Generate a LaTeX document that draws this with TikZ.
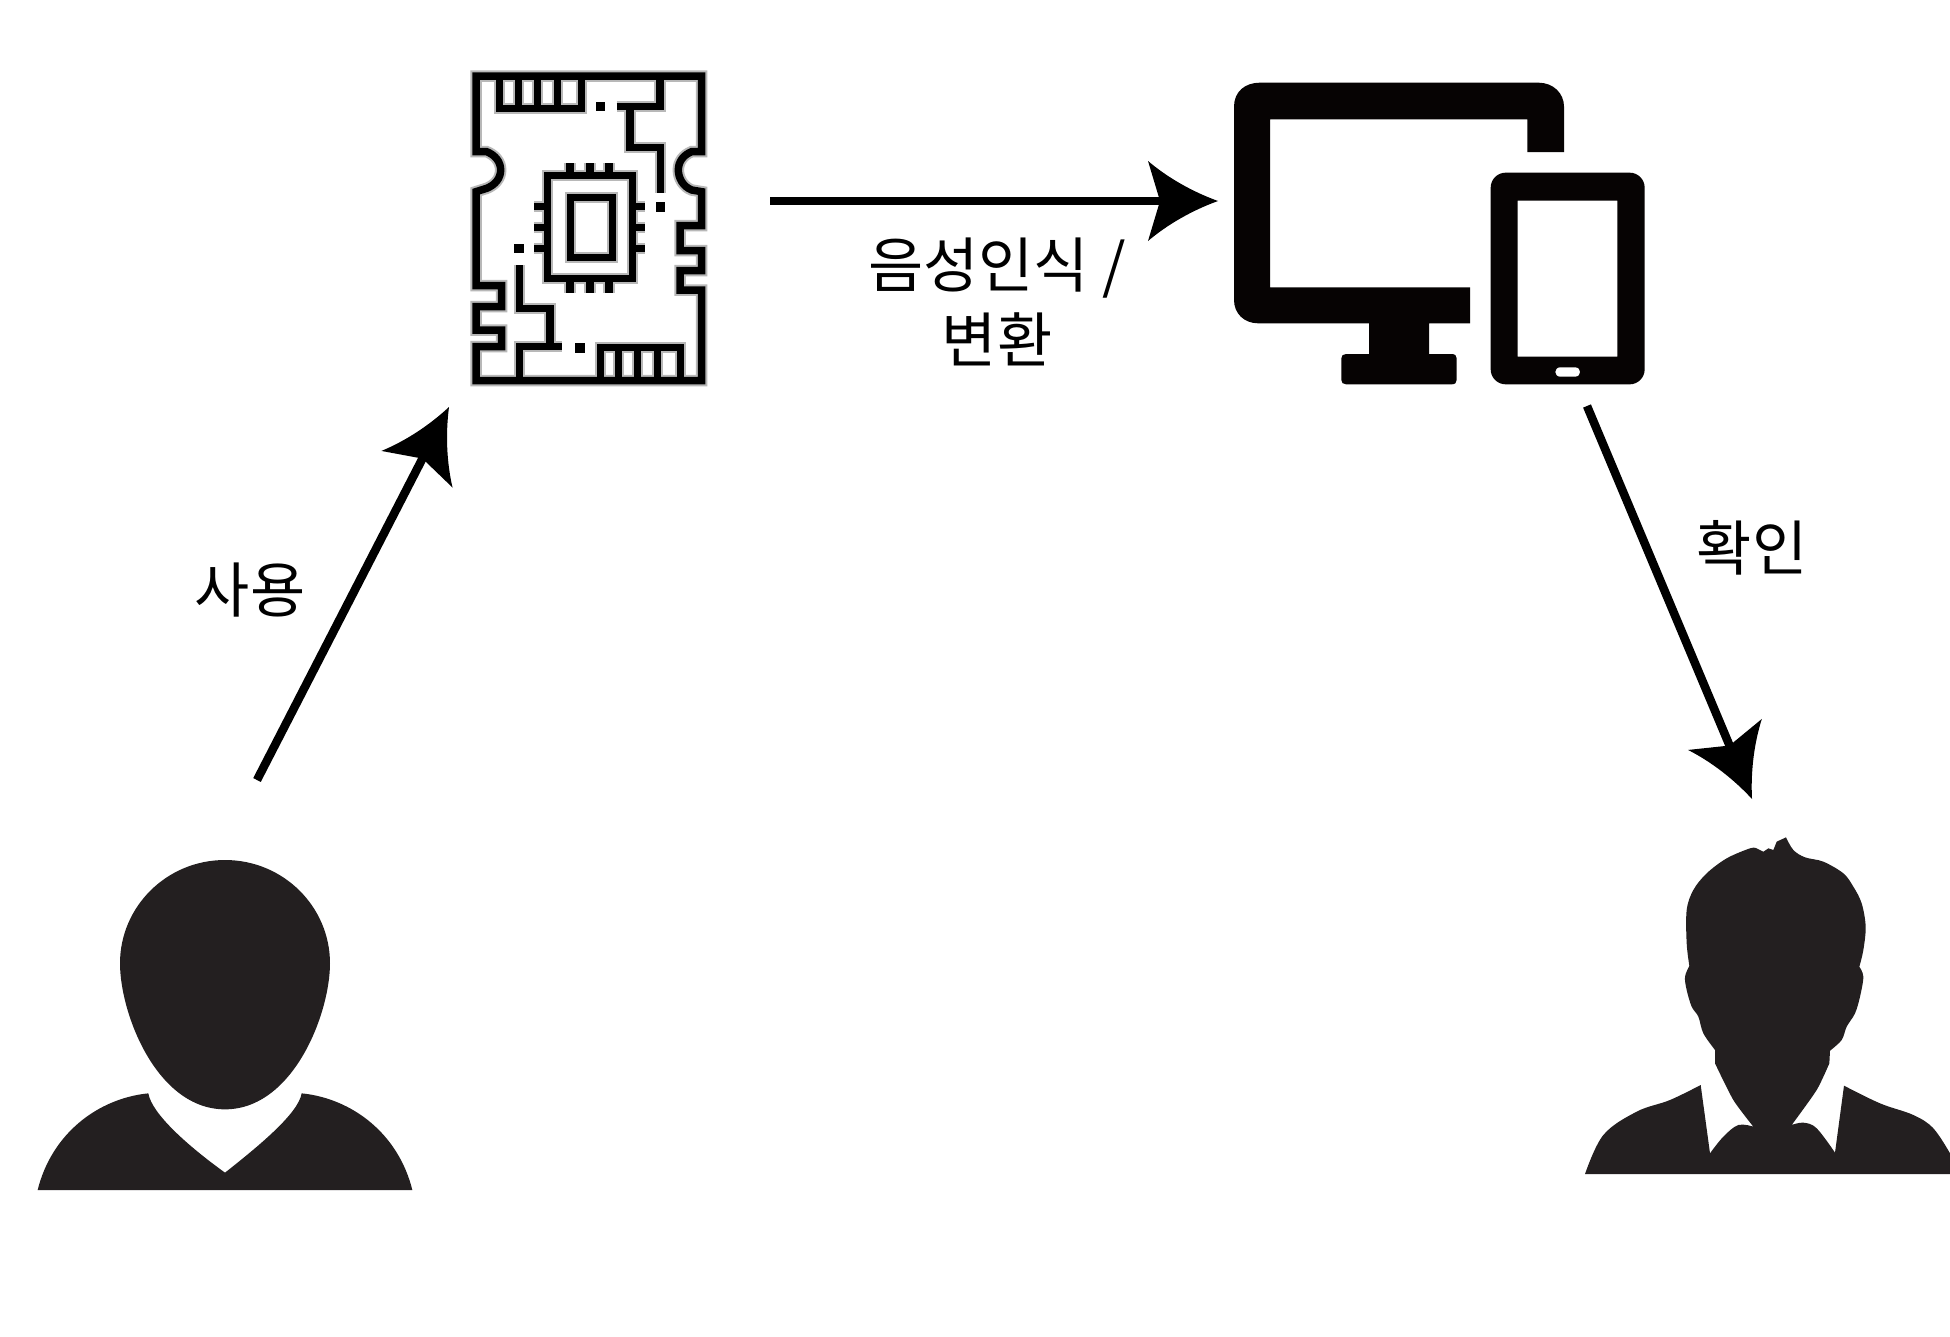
\documentclass[tikz,border=0pt]{standalone}
\usepackage{fontspec}
\newfontfamily\krfont{Noto Sans CJK KR}
\usetikzlibrary{arrows.meta}
\pgfdeclarearrow{
  name=Barbed,
  setup code={
    \pgfarrowssettipend{0pt}
    \pgfarrowssetlineend{-52pt}
    \pgfarrowssetbackend{-70pt}
    \pgfarrowssetvisualbackend{-58pt}
  },
  drawing code={
    \pgfpathmoveto{\pgfpoint{0pt}{0pt}}
    \pgfpathcurveto{\pgfpoint{-25pt}{9pt}}{\pgfpoint{-50pt}{23pt}}{\pgfpoint{-70pt}{40pt}}
    \pgfpathlineto{\pgfpoint{-58pt}{0pt}}
    \pgfpathlineto{\pgfpoint{-70pt}{-40pt}}
    \pgfpathcurveto{\pgfpoint{-50pt}{-23pt}}{\pgfpoint{-25pt}{-9pt}}{\pgfpoint{0pt}{0pt}}
    \pgfpathclose
    \pgfusepathqfill
  },
}
\definecolor{personcol}{HTML}{231F20}
\definecolor{devicecol}{HTML}{060303}
\tikzset{
  flow/.style={draw=black,line width=#1,-{Barbed}},
  flow/.default=8.5pt,
  lbl/.style={font=\krfont\fontsize{60}{75}\selectfont,align=center,inner sep=0pt,text=black},
  chipline/.style={draw=black,line width=7.5pt,line join=miter,fill=none},
  chiphalo/.style={draw=black!28,line width=11.5pt,line join=miter,fill=none},
  zoomed/.style={shift={#1},x=0.33333pt,y=-0.33333pt},
}
\newcommand{\chipdraw}[1]{%
  % outline
  \path[#1] (48,48) -- (725,48) -- (725,275) -- (695,275) .. controls (670,285) and (655,305) .. (655,330)
    .. controls (655,355) and (670,380) .. (695,390) -- (725,395) -- (725,497) -- (660,497) -- (660,572) -- (725,572)
    -- (725,632) -- (660,632) -- (660,690) -- (725,690) -- (725,962) -- (48,962) -- (48,860) -- (125,860) -- (125,810)
    -- (48,810) -- (48,740) -- (125,740) -- (125,677) -- (48,677) -- (48,395) -- (80,385)
    .. controls (105,375) and (122,355) .. (122,330) .. controls (122,305) and (105,285) .. (80,275) -- (48,275) -- cycle;
  % top connector
  \path[#1] (118,52) -- (118,145) -- (365,145) -- (365,52);
  \path[#1] (175,52) -- (175,145) (232,52) -- (232,145) (292,52) -- (292,145);
  % traces top right
  \path[#1] (470,140) -- (600,140) -- (600,50);
  \path[#1] (510,140) -- (510,262) -- (602,262) -- (602,398);
  % chip
  \path[#1] (262,347) rectangle (518,655);
  \path[#1] (332,412) rectangle (457,592);
  \path[#1] (330,310) -- (330,347) (390,310) -- (390,347) (447,310) -- (447,347);
  \path[#1] (330,655) -- (330,700) (390,655) -- (390,700) (447,655) -- (447,700);
  \path[#1] (222,440) -- (262,440) (222,502) -- (262,502) (222,565) -- (262,565);
  \path[#1] (518,440) -- (555,440) (518,502) -- (555,502) (518,565) -- (555,565);
  % traces bottom left
  \path[#1] (178,615) -- (178,745) -- (270,745) -- (270,860);
  \path[#1] (178,955) -- (178,860) -- (305,860);
  % bottom connector
  \path[#1] (422,955) -- (422,862) -- (662,862) -- (662,955);
  \path[#1] (475,862) -- (475,955) (532,862) -- (532,955) (592,862) -- (592,955);
}
\begin{document}
\begin{tikzpicture}[x=1pt,y=-1pt]
\useasboundingbox[fill=white] (0,0) rectangle (1950,1336);

% chip board
\begin{scope}[zoomed={(460,60)}]
  \chipdraw{chiphalo}
  \chipdraw{chipline}
  \fill[black] (408,126) rectangle (436,154);
  \fill[black] (587,425) rectangle (615,455);
  \fill[black] (163,551) rectangle (193,579);
  \fill[black] (345,850) rectangle (375,880);
\end{scope}

% monitor and tablet
\begin{scope}[zoomed={(1220,70)},fill=devicecol]
  \fill (42,110) .. controls (42,65) and (75,38) .. (120,38) -- (955,38)
    .. controls (1000,38) and (1032,70) .. (1032,110) -- (1032,246) -- (922,246) -- (922,148) -- (150,148)
    -- (150,652) -- (750,652) -- (750,760) -- (627,760) -- (627,852) -- (695,852)
    .. controls (705,852) and (710,857) .. (710,865) -- (710,930)
    .. controls (710,938) and (705,943) .. (695,943) -- (378,943)
    .. controls (369,943) and (364,938) .. (364,930) -- (364,865)
    .. controls (364,857) and (369,852) .. (378,852) -- (447,852) -- (447,760) -- (115,760)
    .. controls (72,760) and (42,730) .. (42,690) -- cycle;
  \fill[even odd rule] [rounded corners=15pt] (812,308) rectangle (1274,943)
    [sharp corners] (893,392) rectangle (1192,860)
    (1020,892) -- (1066,892) .. controls (1085,892) and (1085,920) .. (1066,920) -- (1020,920)
    .. controls (1001,920) and (1001,892) .. (1020,892) -- cycle;
\end{scope}

% left person
\begin{scope}[zoomed={(20,840)},fill=personcol]
  \fill (615,60) .. controls (440,60) and (300,200) .. (300,370)
    .. controls (300,520) and (410,808) .. (615,808)
    .. controls (820,808) and (930,520) .. (930,370)
    .. controls (930,200) and (790,60) .. (615,60) -- cycle;
  \fill (53,1050) .. controls (95,880) and (235,775) .. (385,760)
    .. controls (395,820) and (500,915) .. (615,998)
    .. controls (720,915) and (835,820) .. (845,760)
    .. controls (995,775) and (1135,880) .. (1177,1050) -- cycle;
\end{scope}

% right person
\begin{scope}[zoomed={(1560,820)},fill=personcol]
  \fill plot[smooth,tension=.55] coordinates {(678,52) (700,90) (735,112) (790,125) (850,160) (880,200) (905,250) (917,320) (910,390) (898,440)}
    -- plot[smooth,tension=.55] coordinates {(898,440) (910,470) (900,530) (885,580) (860,620) (845,660) (810,692)}
    -- (808,730) -- plot[smooth,tension=.4] coordinates {(808,730) (770,810) (695,915)}
    -- plot[smooth,tension=.6] coordinates {(695,915) (730,908) (770,925) (825,998)}
    -- (852,797)
    -- plot[smooth,tension=.6] coordinates {(852,797) (960,850) (1060,885) (1120,925) (1170,1000)}
    -- (1170,1062) -- (75,1062)
    -- plot[smooth,tension=.6] coordinates {(75,1062) (130,945) (230,875) (330,840) (422,795)}
    -- (450,1000)
    -- plot[smooth,tension=.6] coordinates {(450,1000) (490,950) (535,915) (580,920)}
    -- plot[smooth,tension=.4] coordinates {(580,920) (520,840) (465,730)}
    -- (465,690)
    -- plot[smooth,tension=.55] coordinates {(465,690) (430,640) (415,590) (395,560) (380,510) (375,470) (388,438)}
    -- plot[smooth,tension=.55] coordinates {(388,438) (380,370) (380,270) (400,210) (440,160) (500,115) (570,85) (590,85)}
    -- (610,95) -- (625,85) -- (640,90) -- (650,65) -- cycle;
\end{scope}

% connector ends
\coordinate (userOut) at (257,780);
\coordinate (chipIn) at (449,407);
\coordinate (chipOut) at (770,201);
\coordinate (deviceIn) at (1218,201);
\coordinate (deviceOut) at (1587,406);
\coordinate (viewerIn) at (1752,799);

\draw[flow] (userOut) -- (chipIn);
\draw[flow] (chipOut) -- (deviceIn);
\draw[flow] (deviceOut) -- (viewerIn);

\node[lbl] (useLabel) at (250,590) {사용};
\node[lbl] (convLabel) at (997,302) {음성인식 /\\변환};
\node[lbl] (checkLabel) at (1752,548) {확인};
\end{tikzpicture}
\end{document}
